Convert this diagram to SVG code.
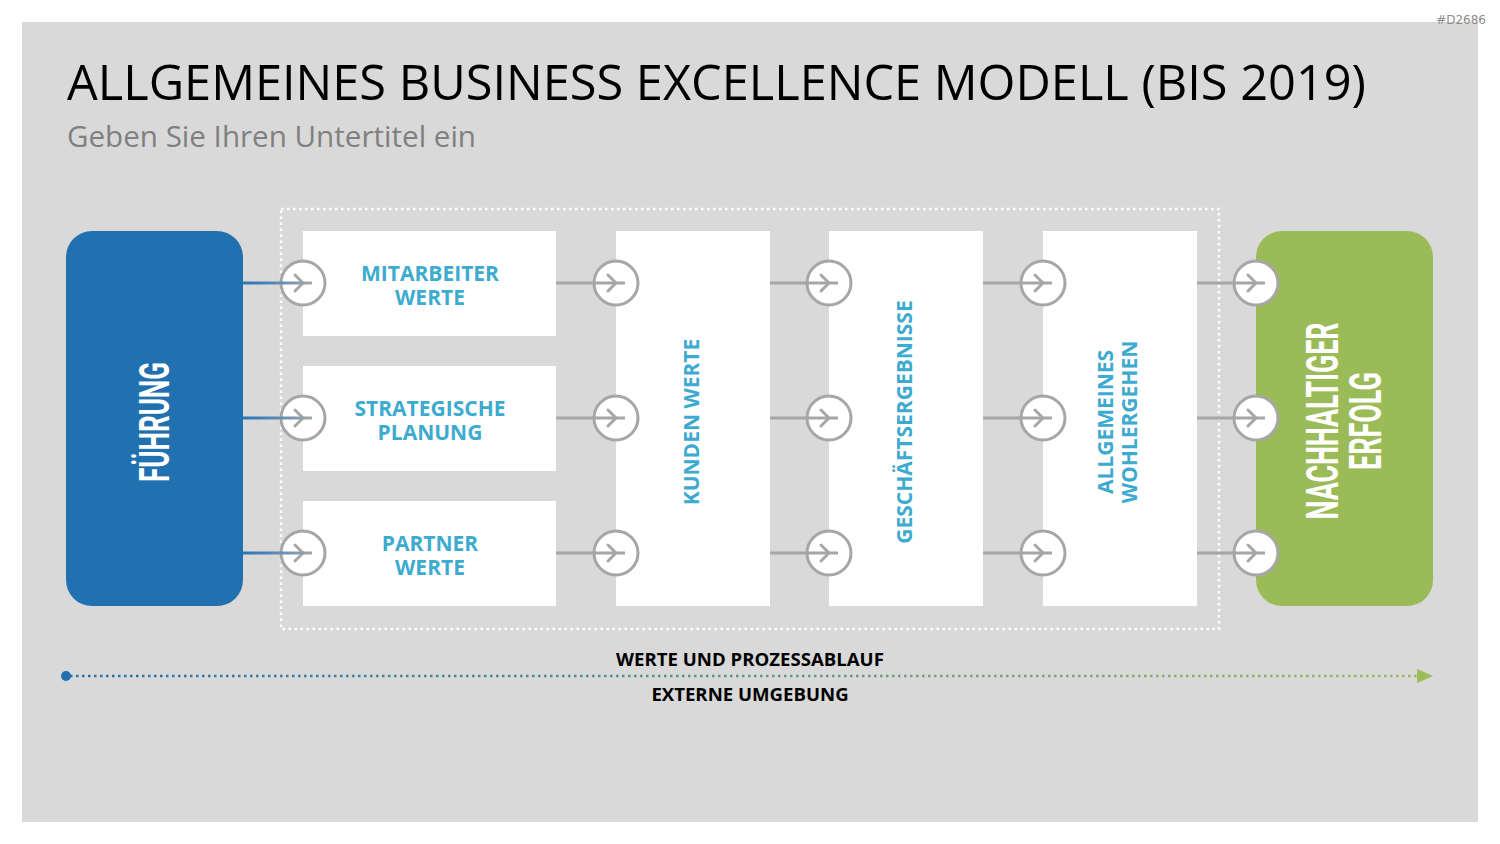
<svg xmlns="http://www.w3.org/2000/svg" width="1500" height="844" viewBox="0 0 1500 844">
<defs>
<style>
.box{fill:#ffffff}
.lbl{font-family:"Open Sans","Liberation Sans",sans-serif;font-weight:700;font-size:21px;fill:#3DAACF;text-anchor:middle}
.cond{font-family:Roboto,"Liberation Sans",sans-serif;font-weight:700;fill:#ffffff;text-anchor:middle}
.conn{stroke:#A6A6A6;stroke-width:3;fill:none}
.circ{fill:#ffffff;stroke:#A6A6A6;stroke-width:3}
.chev{stroke:#A6A6A6;stroke-width:3;fill:none;stroke-linecap:round;stroke-linejoin:round}
.bot{font-family:"Open Sans","Liberation Sans",sans-serif;font-weight:700;font-size:18.6px;fill:#000000;text-anchor:middle}
</style>
<linearGradient id="blueGray" x1="243" y1="0" x2="312" y2="0" gradientUnits="userSpaceOnUse">
<stop offset="0" stop-color="#2E75B6"/><stop offset="0.4" stop-color="#4F86B8"/><stop offset="1" stop-color="#A6A6A6"/>
</linearGradient>
<linearGradient id="flow" x1="66" y1="0" x2="1433" y2="0" gradientUnits="userSpaceOnUse">
<stop offset="0" stop-color="#2171B0"/><stop offset="1" stop-color="#9BBB59"/>
</linearGradient>
<g id="arr">
<circle class="circ" cx="0" cy="0" r="22"/>
<path class="chev" d="M-8-8L0 0L-8 8"/>
</g>
</defs>
<rect x="0" y="0" width="1500" height="844" fill="#ffffff"/>
<rect x="22" y="22" width="1456" height="800" fill="#D9D9D9"/>
<text x="1486" y="24" font-family="'DejaVu Sans','Liberation Sans',sans-serif" font-size="12" fill="#8C8C8C" text-anchor="end">#D2686</text>
<text x="67" y="100" font-family="'Open Sans','Liberation Sans',sans-serif" font-size="50" fill="#000000" textLength="1299" lengthAdjust="spacingAndGlyphs">ALLGEMEINES BUSINESS EXCELLENCE MODELL (BIS 2019)</text>
<text x="67" y="147" font-family="'Open Sans','Liberation Sans',sans-serif" font-size="30" fill="#808080" textLength="409" lengthAdjust="spacingAndGlyphs">Geben Sie Ihren Untertitel ein</text>

<rect x="281" y="209" width="938" height="420" fill="none" stroke="#ffffff" stroke-width="2.5" stroke-dasharray="2.5 3.5"/>

<g id="connectors">
<path class="conn" d="M556 283H625M556 418H625M556 553H625M770 283H838M770 418H838M770 553H838M983 283H1052M983 418H1052M983 553H1052M1197 283H1265M1197 418H1265M1197 553H1265"/>
</g>

<g id="fuehrung">
<rect x="66" y="231" width="177" height="375" rx="26" fill="#2171B0"/>
<text class="cond" transform="translate(169,422) rotate(-90)" font-size="42" textLength="120" lengthAdjust="spacingAndGlyphs">FÜHRUNG</text>
</g>
<g id="erfolg">
<rect x="1256" y="231" width="177" height="375" rx="26" fill="#9BBB59"/>
<text class="cond" transform="translate(1338,421) rotate(-90)" font-size="44" textLength="197" lengthAdjust="spacingAndGlyphs">NACHHALTIGER</text>
<text class="cond" transform="translate(1381,421) rotate(-90)" font-size="44" textLength="98" lengthAdjust="spacingAndGlyphs">ERFOLG</text>
</g>

<g id="mitarbeiter">
<rect class="box" x="303" y="231" width="253" height="105"/>
<text class="lbl" x="430" y="281">MITARBEITER</text>
<text class="lbl" x="430" y="305">WERTE</text>
</g>
<g id="strategie">
<rect class="box" x="303" y="366" width="253" height="105"/>
<text class="lbl" x="430" y="416">STRATEGISCHE</text>
<text class="lbl" x="430" y="440">PLANUNG</text>
</g>
<g id="partner">
<rect class="box" x="303" y="501" width="253" height="105"/>
<text class="lbl" x="430" y="551">PARTNER</text>
<text class="lbl" x="430" y="575">WERTE</text>
</g>
<g id="kunden">
<rect class="box" x="616" y="231" width="154" height="375"/>
<text class="lbl" transform="translate(699,422) rotate(-90)">KUNDEN WERTE</text>
</g>
<g id="geschaeft">
<rect class="box" x="829" y="231" width="154" height="375"/>
<text class="lbl" transform="translate(912,422) rotate(-90)">GESCHÄFTSERGEBNISSE</text>
</g>
<g id="wohl">
<rect class="box" x="1043" y="231" width="154" height="375"/>
<text class="lbl" transform="translate(1113,422) rotate(-90)">ALLGEMEINES</text>
<text class="lbl" transform="translate(1137,422) rotate(-90)">WOHLERGEHEN</text>
</g>

<g id="arrows">
<use href="#arr" x="303" y="283"/><use href="#arr" x="303" y="418"/><use href="#arr" x="303" y="553"/>
<use href="#arr" x="616" y="283"/><use href="#arr" x="616" y="418"/><use href="#arr" x="616" y="553"/>
<use href="#arr" x="829" y="283"/><use href="#arr" x="829" y="418"/><use href="#arr" x="829" y="553"/>
<use href="#arr" x="1043" y="283"/><use href="#arr" x="1043" y="418"/><use href="#arr" x="1043" y="553"/>
<use href="#arr" x="1256" y="283"/><use href="#arr" x="1256" y="418"/><use href="#arr" x="1256" y="553"/>
</g>
<g id="arrowlines">
<path d="M243 283H312M243 418H312M243 553H312" stroke="url(#blueGray)" stroke-width="3" fill="none"/>
<path class="conn" d="M594 283H625M594 418H625M594 553H625M807 283H838M807 418H838M807 553H838M1021 283H1052M1021 418H1052M1021 553H1052M1234 283H1265M1234 418H1265M1234 553H1265"/>
</g>

<g id="flowline">
<text class="bot" x="750" y="666">WERTE UND PROZESSABLAUF</text>
<line x1="70" y1="676" x2="1418" y2="676" stroke="url(#flow)" stroke-width="2.5" stroke-dasharray="2.5 3.5"/>
<circle cx="66" cy="676" r="5" fill="#2171B0"/>
<polygon points="1417,669 1433,676 1417,683" fill="#9BBB59"/>
<text class="bot" x="750" y="701">EXTERNE UMGEBUNG</text>
</g>
</svg>
